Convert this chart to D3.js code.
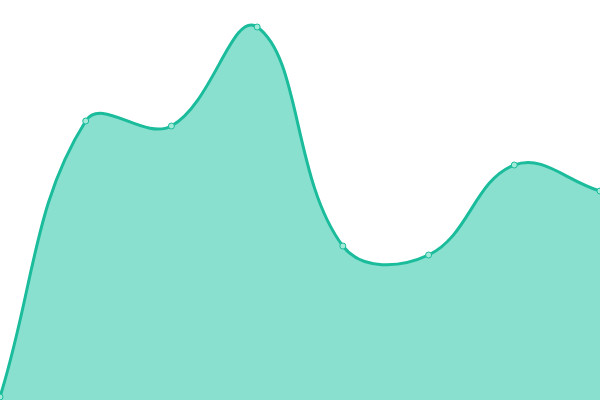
<!DOCTYPE html>
<html><head><meta charset="utf-8">
<script src="https://cdn.jsdelivr.net/npm/d3@7"></script>
<style>html,body{margin:0;padding:0;background:#fff;}svg{display:block;}</style>
</head><body>
<svg id="chart" width="600" height="400"></svg>
<script>
const categories = [0, 1, 2, 3, 4, 5, 6, 7];
const values = [3, 279, 274, 373, 154, 145, 235, 209];

const W = 600, H = 400;
const svg = d3.select("#chart");
const x = d3.scaleLinear().domain([0, categories.length - 1]).range([0, W]);
const y = d3.scaleLinear().domain([0, 400]).range([H, 0]);
const data = categories.map((c, i) => ({c, v: values[i]}));

// Distance-weighted spline (tension 0.4) as a custom d3 curve
function SplineCurve(context, t) { this._context = context; this._t = t; this._line = NaN; }
SplineCurve.prototype = {
  areaStart() { this._line = 0; },
  areaEnd() { this._line = NaN; },
  lineStart() { this._pts = []; },
  point(x, y) { this._pts.push([+x, +y]); },
  lineEnd() {
    const p = this._pts, n = p.length, ctx = this._context, t = this._t;
    if (n) {
      const cps = p.map((cur, i) => {
        const prev = p[Math.max(0, i - 1)], next = p[Math.min(n - 1, i + 1)];
        const d01 = Math.hypot(cur[0] - prev[0], cur[1] - prev[1]);
        const d12 = Math.hypot(next[0] - cur[0], next[1] - cur[1]);
        let s01 = d01 / (d01 + d12), s12 = d12 / (d01 + d12);
        if (isNaN(s01)) s01 = 0; if (isNaN(s12)) s12 = 0;
        const fa = t * s01, fb = t * s12;
        const dx = next[0] - prev[0], dy = next[1] - prev[1];
        return {px: cur[0] - fa * dx, py: cur[1] - fa * dy, nx: cur[0] + fb * dx, ny: cur[1] + fb * dy};
      });
      if (this._line) ctx.lineTo(p[0][0], p[0][1]); else ctx.moveTo(p[0][0], p[0][1]);
      for (let i = 1; i < n; i++) {
        ctx.bezierCurveTo(cps[i - 1].nx, cps[i - 1].ny, cps[i].px, cps[i].py, p[i][0], p[i][1]);
      }
    }
    if (this._line) ctx.closePath();
    this._line = 1 - this._line;
  }
};
const curve = ctx => new SplineCurve(ctx, 0.4);

svg.append("path").datum(data)
  .attr("d", d3.area().x(d => x(d.c)).y0(y(0)).y1(d => y(d.v)).curve(curve))
  .attr("fill", "#89e0cf");
svg.append("path").datum(data)
  .attr("d", d3.line().x(d => x(d.c)).y(d => y(d.v)).curve(curve))
  .attr("fill", "none").attr("stroke", "#1abc9c").attr("stroke-width", 3);
svg.selectAll("circle").data(data).join("circle")
  .attr("cx", d => x(d.c)).attr("cy", d => y(d.v)).attr("r", 3)
  .attr("fill", "#a3ead9").attr("stroke", "#1abc9c").attr("stroke-width", 1);
</script>
</body></html>
